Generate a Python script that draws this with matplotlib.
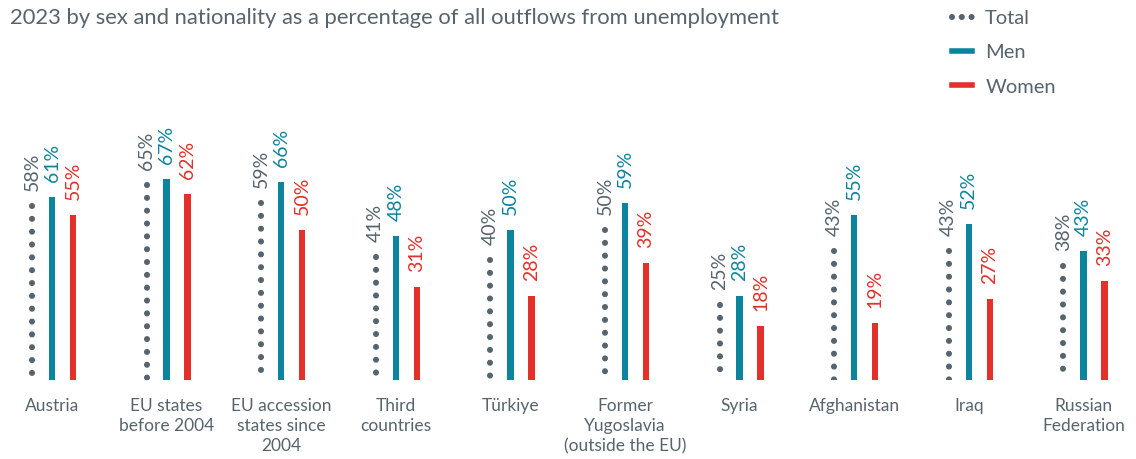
import matplotlib.pyplot as plt
from matplotlib.lines import Line2D
import numpy as np

plt.rcParams['font.family'] = ['Lato', 'DejaVu Sans']

categories = ["Austria", "EU states\nbefore 2004", "EU accession\nstates since\n2004",
              "Third\ncountries", "Türkiye", "Former\nYugoslavia\n(outside the EU)",
              "Syria", "Afghanistan", "Iraq", "Russian\nFederation"]
total = [58, 65, 59, 41, 40, 50, 25, 43, 43, 38]
men = [61, 67, 66, 48, 50, 59, 28, 55, 52, 43]
women = [55, 62, 50, 31, 28, 39, 18, 19, 27, 33]

GREY = "#56646e"
TEAL = "#0b849e"
RED = "#e3302a"

W, H = 1136, 459
fig = plt.figure(figsize=(W / 100, H / 100), dpi=100)
# y=0 at 380px from top, y=100 at 80px from top
ax = fig.add_axes([0, 79 / H, 1, 300 / H])
ax.set_xlim(-0.454, 9.459)
ax.set_ylim(0, 100)
ax.axis("off")

x = np.arange(len(categories))
off_t = -0.175
off_w = 0.183
fs = 14
dot_style = (0, (0.001, 2.1))

for i in x:
    # dotted total line, drawn from top so a dot sits on the value
    ax.plot([i + off_t, i + off_t], [total[i], 0], color=GREY, lw=4.4,
            linestyle=dot_style, dash_capstyle="round")
    ax.text(i + off_t, total[i] + 5, f"{total[i]}%", rotation=90, ha="center",
            va="bottom", color=GREY, fontsize=fs)
    ax.text(i, men[i] + 5, f"{men[i]}%", rotation=90, ha="center",
            va="bottom", color=TEAL, fontsize=fs)
    ax.text(i + off_w, women[i] + 5, f"{women[i]}%", rotation=90, ha="center",
            va="bottom", color=RED, fontsize=fs)
    ax.text(i, -6, categories[i], ha="center", va="top", color=GREY,
            fontsize=12.5, linespacing=1.3)

ax.bar(x, men, width=0.055, color=TEAL)
ax.bar(x + off_w, women, width=0.055, color=RED)

fig.text(10 / W, 1 - 18 / H, "2023 by sex and nationality as a percentage of all outflows from unemployment",
         ha="left", va="center", color=GREY, fontsize=15.8)

handles = [
    Line2D([0], [0], color=GREY, lw=4.4, linestyle=(0, (0.001, 1.6)), dash_capstyle="round"),
    Line2D([0], [0], color=TEAL, lw=4),
    Line2D([0], [0], color=RED, lw=4),
]
fig.legend(handles, ["Total", "Men", "Women"], loc="upper left",
           bbox_to_anchor=(952 / W, 1 - 10 / H), frameon=False, fontsize=14.5,
           labelcolor=GREY, handlelength=1.0, labelspacing=0.85, handletextpad=0.65,
           borderpad=0, borderaxespad=0)

fig.savefig("out.png", dpi=100)
